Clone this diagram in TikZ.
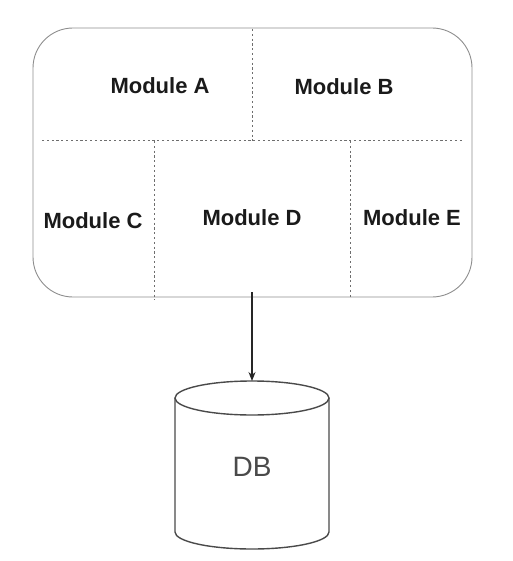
\documentclass[tikz,border=0pt]{standalone}
\usepackage{fontspec}
\setmainfont{Liberation Sans}
\usetikzlibrary{arrows.meta}
\definecolor{boxgray}{HTML}{8E8E8E}
\definecolor{dashgray}{HTML}{6E6E6E}
\definecolor{cylgray}{HTML}{4A4A4A}
\definecolor{txt}{HTML}{1A1A1A}
\tikzset{
  modlabel/.style={font=\fontsize{22}{25}\selectfont\bfseries, text=txt, inner sep=0pt},
  divider/.style={draw=dashgray, line width=1pt, dash pattern=on 2.2pt off 2.6pt},
  cyl/.style={draw=cylgray, line width=1.4pt},
}
\begin{document}
\begin{tikzpicture}[x=1pt,y=-1pt]
\useasboundingbox (0,0) rectangle (512,561);
% outer box
\node (sys) [draw=boxgray, line width=0.9pt, rounded corners=40pt, minimum width=439pt, minimum height=269pt, inner sep=0pt] at (252.5,162.5) {};
% dividers
\draw[divider] (42,141) -- (463,141);
\draw[divider] (252,29) -- (252,141);
\draw[divider] (154,141) -- (154,300);
\draw[divider] (350,141) -- (350,297);
% labels
\node (ma) [modlabel] at (160,86) {Module A};
\node (mb) [modlabel] at (344,87) {Module B};
\node (mc) [modlabel] at (93,221) {Module C};
\node (md) [modlabel] at (252,218) {Module D};
\node (me) [modlabel] at (412,218) {Module E};
% cylinder
\draw[cyl, fill=white] (175,398) -- (175,532) arc[start angle=180, end angle=0, x radius=77, y radius=17] -- (329,398);
\draw[cyl] (252,398) ellipse [x radius=77, y radius=17];
\coordinate (dbtop) at (252,381);
\node (db) [font=\fontsize{28}{32}\selectfont, text=cylgray, inner sep=0pt] at (252,467) {DB};
% arrow
\coordinate (arrstart) at (252,292);
\draw[line width=1.4pt, draw=black!85, -{Stealth[length=9pt,width=7pt]}] (arrstart) -- (dbtop);
\end{tikzpicture}
\end{document}
